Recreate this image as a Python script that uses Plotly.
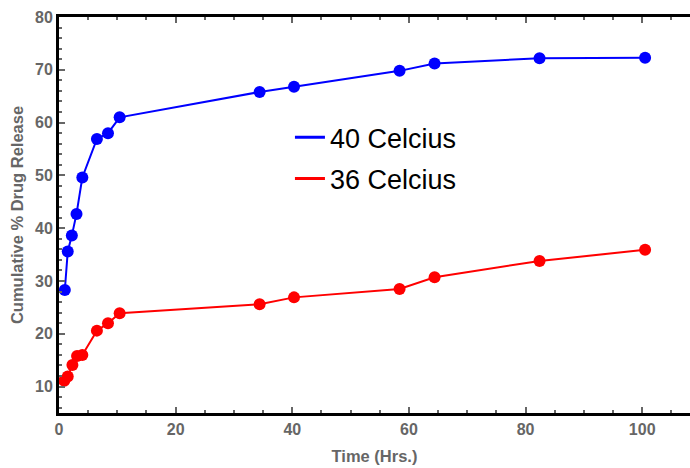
import plotly.graph_objects as go

time_40 = [1.0, 1.5, 2.2, 3.0, 4.0, 6.5, 8.4, 10.4, 34.4, 40.3, 58.4, 64.4, 82.4, 100.5]
release_40 = [28.3, 35.6, 38.6, 42.7, 49.6, 56.9, 58.0, 61.0, 65.8, 66.8, 69.8, 71.2, 72.2, 72.3]

time_36 = [0.9, 1.5, 2.3, 3.1, 4.0, 6.5, 8.4, 10.4, 34.4, 40.3, 58.4, 64.4, 82.4, 100.5]
release_36 = [11.1, 11.9, 14.1, 15.8, 16.0, 20.6, 22.0, 23.9, 25.6, 26.9, 28.5, 30.7, 33.8, 35.9]

series_names = ["40 Celcius", "36 Celcius"]
series_colors = ["#0000ff", "#ff0000"]

x_ticks = [0, 20, 40, 60, 80, 100]
y_ticks = [10, 20, 30, 40, 50, 60, 70, 80]

fig = go.Figure()
for xs, ys, name, col in [(time_40, release_40, series_names[0], series_colors[0]),
                          (time_36, release_36, series_names[1], series_colors[1])]:
    fig.add_trace(go.Scatter(x=xs, y=ys, mode="lines+markers", name=name,
                             line=dict(color=col, width=2),
                             marker=dict(color=col, size=12),
                             showlegend=False))
for name, col in zip(series_names, series_colors):
    fig.add_trace(go.Scatter(x=[None], y=[None], mode="lines", name=name,
                             legendgroup=name,
                             line=dict(color=col, width=3)))

gray = "#666666"
tick_font = dict(family="Liberation Sans", size=16, color=gray, weight="bold")
title_font = dict(family="Liberation Sans", size=16.5, color=gray, weight="bold")

fig.update_layout(
    width=690, height=468,
    margin=dict(l=59, r=0, t=17, b=55),
    plot_bgcolor="white", paper_bgcolor="white",
    showlegend=True,
    legend=dict(x=0.366, y=0.757, xanchor="left", yanchor="top",
                font=dict(family="Liberation Sans", size=27, color="black"),
                bgcolor="rgba(0,0,0,0)", tracegroupgap=3, itemwidth=30),
    xaxis=dict(range=[0, 108.2], tickvals=x_ticks, ticks="inside", ticklen=6,
               tickwidth=2, tickcolor=gray, showline=True, linecolor="black",
               linewidth=3, mirror="allticks", showgrid=False, zeroline=False,
               tickfont=tick_font,
               title=dict(text="Time (Hrs.)", font=title_font, standoff=14),
               minor=dict(dtick=5, tick0=0, ticks="inside", ticklen=3,
                          tickwidth=2, tickcolor=gray, showgrid=False)),
    yaxis=dict(range=[5, 80], tickvals=y_ticks, ticks="inside", ticklen=6,
               tickwidth=2, tickcolor=gray, showline=True, linecolor="black",
               linewidth=3, mirror=False, showgrid=False, zeroline=False,
               tickfont=tick_font,
               title=dict(text="Cumulative % Drug Release", font=title_font, standoff=8),
               minor=dict(dtick=2, tick0=0, ticks="inside", ticklen=3,
                          tickwidth=2, tickcolor=gray, showgrid=False)),
)

fig.write_html("out.html")
